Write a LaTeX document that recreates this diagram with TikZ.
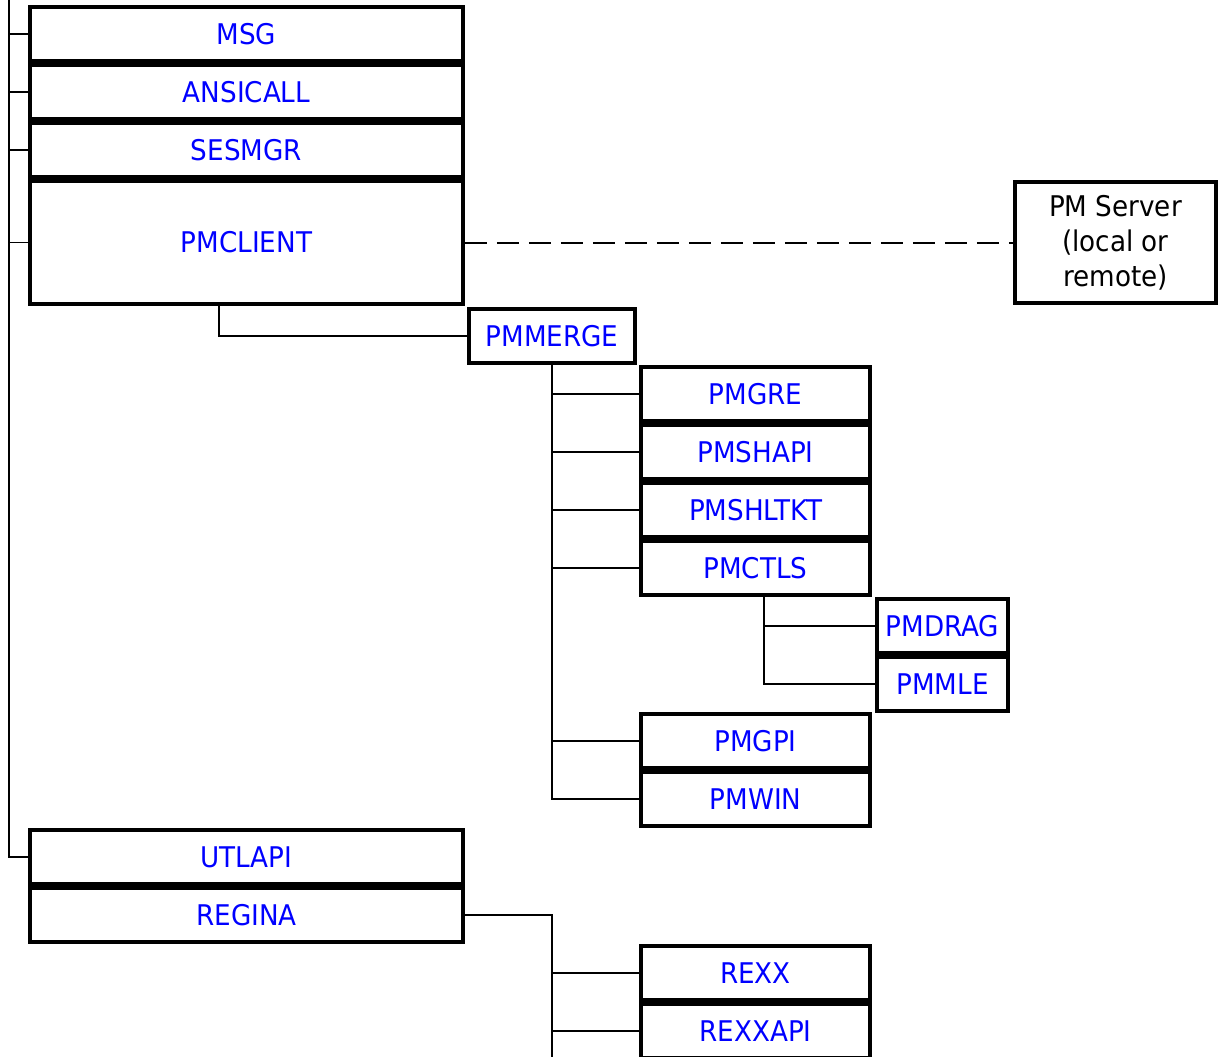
\documentclass[tikz,border=0pt]{standalone}
\usepackage{fontspec}
\setmainfont[FakeStretch=0.92]{DejaVu Sans}
\definecolor{lnk}{RGB}{0,0,255}
\begin{document}
\begin{tikzpicture}[x=1pt,y=-1pt,
  box/.style={draw=black, line width=3.8pt, rectangle, inner sep=0pt, fill=white,
    minimum height=54pt, text=lnk, font=\fontsize{28.5}{31}\selectfont},
  wide/.style={box, minimum width=433pt},
  mid/.style={box, minimum width=229pt},
  conn/.style={line width=1.6pt, black},
]
\useasboundingbox (0,0) rectangle (1226,1057);
% main column
\node[wide] (msg) at (246.5,34) {MSG};
\node[wide] (ansicall) at (246.5,92) {ANSICALL};
\node[wide] (sesmgr) at (246.5,150) {SESMGR};
\node[wide, minimum height=123pt] (pmclient) at (246.5,242.5) {PMCLIENT};
\node[wide] (utlapi) at (246.5,857) {UTLAPI};
\node[wide] (regina) at (246.5,915) {REGINA};
% PM server
\node[box, text=black, minimum width=201pt, minimum height=121pt, align=center,
  font=\fontsize{28.5}{35}\selectfont] (pmserver) at (1115.5,242.5) {PM Server\\(local or\\remote)};
% PMMERGE
\node[box, minimum width=166pt] (pmmerge) at (552,336) {PMMERGE};
\node[mid] (pmgre) at (755.5,394) {PMGRE};
\node[mid] (pmshapi) at (755.5,452) {PMSHAPI};
\node[mid] (pmshltkt) at (755.5,510) {PMSHLTKT};
\node[mid] (pmctls) at (755.5,568) {PMCTLS};
\node[box, minimum width=131pt] (pmdrag) at (942.5,626) {PMDRAG};
\node[box, minimum width=131pt] (pmmle) at (942.5,684) {PMMLE};
\node[mid] (pmgpi) at (755.5,741) {PMGPI};
\node[mid] (pmwin) at (755.5,799) {PMWIN};
\node[mid] (rexx) at (755.5,973) {REXX};
\node[mid] (rexxapi) at (755.5,1031) {REXXAPI};
% connectors
\coordinate (trunk) at (9,-2);
\draw[conn] (trunk) |- (utlapi.west);
\foreach \n in {msg,ansicall,sesmgr,pmclient}
  \draw[conn] (\n.west) -- (\n.west -| trunk);
\draw[conn] ([xshift=-27.5pt]pmclient.south) |- (pmmerge.west);
\draw[conn] (pmmerge.south) |- (pmwin.west);
\foreach \n in {pmgre,pmshapi,pmshltkt,pmctls,pmgpi}
  \draw[conn] (\n.west) -- (\n.west -| pmmerge.south);
\coordinate (ctlsdrop) at ([xshift=8.5pt]pmctls.south);
\draw[conn] (ctlsdrop) |- (pmmle.west);
\draw[conn] (pmdrag.west) -- (pmdrag.west -| ctlsdrop);
\coordinate (regbot) at (552,1060);
\draw[conn] (regina.east) -| (regbot);
\foreach \n in {rexx,rexxapi}
  \draw[conn] (\n.west) -- (\n.west -| regbot);
\draw[conn, line width=2pt, dash pattern=on 22pt off 10pt] (pmclient.east) -- (pmserver.west);
\end{tikzpicture}
\end{document}
